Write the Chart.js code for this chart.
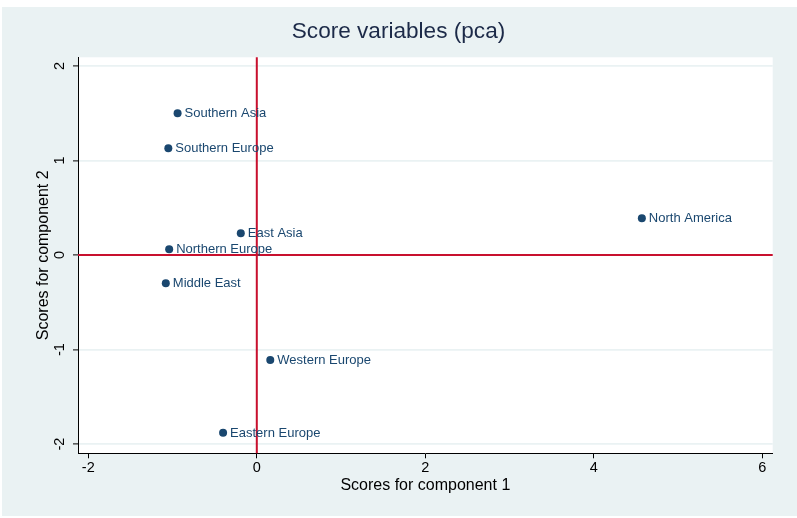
<!DOCTYPE html>
<html>
<head>
<meta charset="utf-8">
<title>Score variables (pca)</title>
<script src="https://cdn.jsdelivr.net/npm/chart.js@4/dist/chart.umd.min.js"></script>
<style>
  html, body { margin: 0; padding: 0; background: #ffffff; }
  #wrap { position: relative; width: 797px; height: 518px; }
</style>
</head>
<body>
<div id="wrap"><canvas id="chart"></canvas></div>
<script>
// Regional scores on the first two principal components
const regions = ['Southern Asia', 'Southern Europe', 'East Asia', 'Northern Europe',
                 'Middle East', 'Western Europe', 'Eastern Europe', 'North America'];
const pc1 = [-0.94, -1.05, -0.19, -1.04, -1.08, 0.16, -0.40, 4.57];
const pc2 = [1.50, 1.13, 0.23, 0.06, -0.30, -1.11, -1.88, 0.39];

const xTickValues = [-2, 0, 2, 4, 6];
const yTickValues = [-2, -1, 0, 1, 2];

const chartTitle = 'Score variables (pca)';
const xTitle = 'Scores for component 1';
const yTitle = 'Scores for component 2';

const FONT = '"Liberation Sans", Arial, Helvetica, sans-serif';
const NAVY = '#1a476f';
const PANEL = '#eaf2f3';
const REFLINE = '#c8102e';

const points = pc1.map((x, i) => ({ x: x, y: pc2[i], label: regions[i] }));

// Background, plot region and title
const backdrop = {
  id: 'backdrop',
  beforeDraw(chart) {
    const { ctx, chartArea: a, width, height } = chart;
    ctx.save();
    ctx.fillStyle = '#ffffff';
    ctx.fillRect(0, 0, width, height);
    ctx.fillStyle = PANEL;
    ctx.fillRect(2, 7, width - 2, height - 9);
    ctx.fillStyle = '#ffffff';
    ctx.fillRect(a.left, a.top, a.right - a.left, a.bottom - a.top);
    ctx.fillStyle = '#1c2a48';
    ctx.font = '22.6px ' + FONT;
    ctx.textAlign = 'center';
    ctx.textBaseline = 'middle';
    ctx.fillText(chartTitle, width / 2, 31.5);
    ctx.restore();
  }
};

// Reference lines through the origin
const refLines = {
  id: 'refLines',
  beforeDatasetsDraw(chart) {
    const { ctx, chartArea: a, scales: { x, y } } = chart;
    const px = x.getPixelForValue(0);
    const py = y.getPixelForValue(0);
    ctx.save();
    ctx.strokeStyle = REFLINE;
    ctx.lineWidth = 2;
    ctx.beginPath();
    ctx.moveTo(a.left, py);
    ctx.lineTo(a.right, py);
    ctx.moveTo(px, a.top);
    ctx.lineTo(px, a.bottom);
    ctx.stroke();
    ctx.restore();
  }
};

// Vertical tick labels on the y axis and marker labels
const textLayer = {
  id: 'textLayer',
  afterDraw(chart) {
    const { ctx, scales: { y } } = chart;
    ctx.save();
    ctx.fillStyle = '#000000';
    ctx.font = '14.5px ' + FONT;
    ctx.textAlign = 'center';
    ctx.textBaseline = 'middle';
    y.ticks.forEach(t => {
      ctx.save();
      ctx.translate(60, y.getPixelForValue(t.value));
      ctx.rotate(-Math.PI / 2);
      ctx.fillText(String(t.value), 0, 0);
      ctx.restore();
    });
    ctx.restore();

    ctx.save();
    ctx.fillStyle = NAVY;
    ctx.font = '13px ' + FONT;
    ctx.textAlign = 'left';
    ctx.textBaseline = 'middle';
    const meta = chart.getDatasetMeta(0);
    meta.data.forEach((el, i) => {
      ctx.fillText(points[i].label, el.x + 7, el.y + 0.5);
    });
    ctx.restore();
  }
};

new Chart(document.getElementById('chart'), {
  type: 'scatter',
  data: {
    datasets: [{
      data: points,
      backgroundColor: NAVY,
      borderColor: NAVY,
      pointRadius: 4,
      pointHoverRadius: 4,
      borderWidth: 0
    }]
  },
  options: {
    responsive: true,
    maintainAspectRatio: false,
    devicePixelRatio: 1,
    animation: false,
    events: [],
    layout: { padding: { top: 57.3, right: 24.3, bottom: 0, left: 0 } },
    plugins: {
      legend: { display: false },
      title: { display: false },
      tooltip: { enabled: false }
    },
    scales: {
      x: {
        type: 'linear',
        min: -2.122,
        max: 6.123,
        afterBuildTicks: s => { s.ticks = xTickValues.map(v => ({ value: v })); },
        afterFit: s => { s.height = 518 - 453.3; },
        ticks: {
          color: '#000000',
          font: { family: FONT, size: 14.5 },
          padding: 1,
          maxRotation: 0,
          callback: v => String(v)
        },
        grid: {
          drawOnChartArea: false,
          drawTicks: true,
          tickLength: 5,
          tickColor: '#000000',
          tickWidth: 1
        },
        border: { display: true, color: '#000000', width: 1 },
        title: {
          display: true,
          text: xTitle,
          color: '#000000',
          font: { family: FONT, size: 16 },
          padding: { top: 0, bottom: 22.8 }
        }
      },
      y: {
        type: 'linear',
        min: -2.098,
        max: 2.092,
        afterBuildTicks: s => { s.ticks = yTickValues.map(v => ({ value: v })); },
        afterFit: s => { s.width = 78; },
        ticks: { display: false },
        grid: {
          drawOnChartArea: true,
          color: PANEL,
          lineWidth: 1.8,
          drawTicks: true,
          tickLength: 5,
          tickColor: '#000000',
          tickWidth: 1
        },
        border: { display: true, color: '#000000', width: 1 },
        title: {
          display: true,
          text: yTitle,
          color: '#000000',
          font: { family: FONT, size: 16 },
          padding: { top: 34, bottom: 0 }
        }
      }
    }
  },
  plugins: [backdrop, refLines, textLayer]
});
</script>
</body>
</html>
